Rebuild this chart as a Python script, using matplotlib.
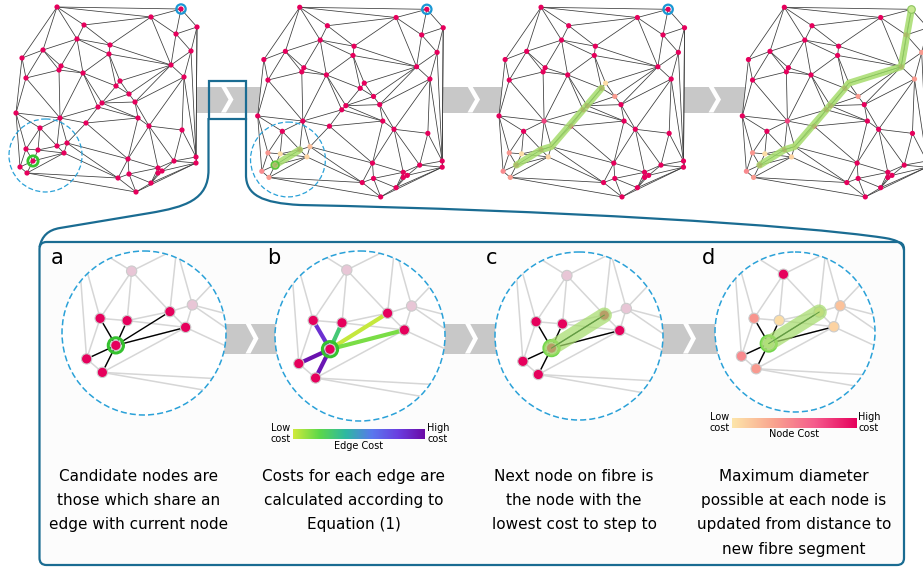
import numpy as np
import matplotlib
matplotlib.use("Agg")
import matplotlib.pyplot as plt
import matplotlib.tri as mtri
from matplotlib.collections import LineCollection, PolyCollection
from matplotlib.patches import Circle, Polygon, Rectangle, FancyBboxPatch, PathPatch
from matplotlib.path import Path
from matplotlib.colors import LinearSegmentedColormap

# network nodes, pixel positions in the first panel
node_x = [57, 181, 151, 197, 84, 176, 77, 110, 43, 191,
          109, 22, 171, 61, 59, 83, 26, 184, 120, 116,
          129, 135, 102, 98, 16, 60, 138, 86, 149, 40,
          182, 67, 57, 26, 38, 64, 33, 196, 174, 196,
          128, 20, 158, 162, 158, 27, 129, 118, 151, 136]
node_y = [7, 9, 17, 27, 25, 34, 39, 45, 50, 51,
          54, 58, 65, 66, 70, 73, 78, 77, 81, 86,
          94, 102, 103, 107, 113, 118, 118, 123, 126, 128,
          130, 143, 146, 149, 150, 153, 161, 157, 161, 163,
          159, 167, 168, 171, 173, 173, 174, 178, 183, 192]

START = 36
TARGET = 1
neighbours = [33, 34, 32, 35, 41, 45]
faded = [29, 31]

# fibre growth in the top row panels
fibre_2 = [36, 32]
fibre_3 = [36, 32, 31, 23, 19]
fibre_4 = [36, 32, 31, 23, 19, 18, 12, 1]

# node cost after each step (0 = low, 1 = high; others stay 1)
cost_2 = {33: 0.40, 34: 0.05, 31: 0.20, 35: 0.10, 41: 0.45, 45: 0.38}
cost_3 = {**cost_2, 18: 0.05, 20: 0.38, 25: 0.75}
cost_4 = {**cost_3, 17: 0.38, 9: 0.38}

# edge cost of the candidate edges (panel b), node cost in panel d
edge_cost = [0.85, 0.30, 0.02, 0.15, 0.97, 0.95]
node_cost_d = {33: 0.40, 34: 0.05, 35: 0.10, 41: 0.45, 45: 0.38, 31: 0.18, 29: 1.0, 32: 0.0}

captions = [
    ["Candidate nodes are", "those which share an", "edge with current node"],
    ["Costs for each edge are", "calculated according to", "Equation (1)"],
    ["Next node on fibre is", "the node with the", "lowest cost to step to"],
    ["Maximum diameter", "possible at each node is", "updated from distance to", "new fibre segment"],
]
panel_labels = ["a", "b", "c", "d"]

CRIMSON = "#e6005c"
BLUE = "#1a6c92"
DASH = "#2aa1d8"
GREEN_RING = "#35c22f"
FIBRE = "#a6dc6c"
BAND = "#c8c8c8"

edge_cmap = LinearSegmentedColormap.from_list(
    "edge", ["#d0ea3c", "#5cd84a", "#2eb8a2", "#5a78ee", "#6b3ee0", "#6a0aa6"])
node_cmap = LinearSegmentedColormap.from_list(
    "node", ["#fde6aa", "#f9a48f", "#f55b8c", "#e6005c"])

nx = np.array(node_x, float)
ny = np.array(node_y, float)
tri = mtri.Triangulation(nx, ny)
edges = tri.edges

fig = plt.figure(figsize=(9.23, 5.69), dpi=100)
ax = fig.add_axes([0, 0, 1, 1])
ax.set_xlim(0, 923)
ax.set_ylim(569, 0)
ax.axis("off")

# ---------------- top row ----------------
ax.add_patch(Rectangle((196, 86.5), 740, 26, facecolor=BAND, edgecolor="none", zorder=0))
for x0 in [221, 467.5, 708.5]:
    ax.add_patch(Polygon([(x0, 86.5), (x0 + 7.5, 99.5), (x0, 112.5), (x0 + 5, 112.5),
                          (x0 + 12.5, 99.5), (x0 + 5, 86.5)],
                         closed=True, facecolor="white", edgecolor="none", zorder=0.5))

panels = [(1.0, 0.0, 0.0), (1.025, 241.3, 0.1), (1.025, 482.6, 0.1), (1.025, 725.9, 0.1)]
costs = [{}, cost_2, cost_3, cost_4]
fibres = [None, fibre_2, fibre_3, fibre_4]

for k, (s, ox, oy) in enumerate(panels):
    px = nx * s + ox
    py = ny * s + oy
    polys = [np.column_stack([px[t], py[t]]) for t in tri.triangles]
    ax.add_collection(PolyCollection(polys, facecolor="white", edgecolor="none", zorder=1))
    segs = [[(px[a], py[a]), (px[b], py[b])] for a, b in edges]
    ax.add_collection(LineCollection(segs, colors="#3a3a3a", linewidths=0.55, zorder=2))
    cols = [node_cmap(costs[k].get(i, 1.0)) for i in range(len(nx))]
    ax.scatter(px, py, s=14, c=cols, edgecolors="none", zorder=3)
    if k < 3:
        ax.scatter([px[TARGET]], [py[TARGET]], s=45, facecolors="none",
                   edgecolors="#1b97d4", linewidths=1.6, zorder=4)
    if k < 2:
        ax.add_patch(Circle((45.5 * s + ox, 155.5 * s + oy), 36.5 * s, fill=False,
                            edgecolor=DASH, lw=0.9, ls=(0, (4, 2)), zorder=4))
    if k == 0:
        ax.scatter([px[START]], [py[START]], s=55, facecolors="none",
                   edgecolors=GREEN_RING, linewidths=2, zorder=4)
    if fibres[k]:
        fx = px[fibres[k]]
        fy = py[fibres[k]]
        ax.plot(fx, fy, color=FIBRE, lw=5, alpha=0.85, solid_capstyle="round",
                solid_joinstyle="round", zorder=5)
        ax.plot(fx, fy, color="#86c45c", lw=0.5, zorder=5)
        if k == 1:
            ax.scatter([px[START]], [py[START]], s=30, facecolors="none",
                       edgecolors="#5cc43c", linewidths=1.2, zorder=5)
        if k == 3:
            ax.scatter([px[TARGET]], [py[TARGET]], s=30, facecolors="#c8e890",
                       edgecolors="#8cc460", linewidths=0.8, zorder=5)

# highlight box and connectors
ax.add_patch(Rectangle((208.5, 81), 37.5, 37.5, fill=False, edgecolor=BLUE, lw=1.6, zorder=6))
left_path = Path([(208.5, 118), (208.5, 170), (208.5, 200), (185, 207), (150, 213),
                  (60, 228), (48, 230), (42, 236), (39.5, 247)],
                 [Path.MOVETO, Path.LINETO, Path.CURVE4, Path.CURVE4, Path.CURVE4,
                  Path.LINETO, Path.CURVE4, Path.CURVE4, Path.CURVE4])
right_path = Path([(246, 118), (246, 175), (246, 195), (262, 203), (300, 205),
                   (550, 210), (800, 225), (885, 238), (897, 240), (903, 243), (904, 250)],
                  [Path.MOVETO, Path.LINETO, Path.CURVE4, Path.CURVE4, Path.CURVE4,
                   Path.CURVE4, Path.CURVE4, Path.CURVE4, Path.CURVE4, Path.CURVE4, Path.CURVE4])
for p in [left_path, right_path]:
    ax.add_patch(PathPatch(p, fill=False, edgecolor=BLUE, lw=1.6, zorder=6))

# ---------------- lower box ----------------
ax.add_patch(FancyBboxPatch((39.5, 242), 864.5, 323, boxstyle="round,pad=0,rounding_size=7",
                            facecolor="#fcfcfc", edgecolor=BLUE, lw=1.6, zorder=0.2))
ax.add_patch(Rectangle((215, 323.5), 520, 30, facecolor=BAND, edgecolor="none", zorder=1))
for x0 in [245.5, 465, 683]:
    ax.add_patch(Polygon([(x0, 323.5), (x0 + 8, 338.5), (x0, 353.5), (x0 + 5, 353.5),
                          (x0 + 13, 338.5), (x0 + 5, 323.5)],
                         closed=True, facecolor="white", edgecolor="none", zorder=1.5))

zoom_centres = [(144, 333), (360, 336), (579, 336), (795, 332)]
zoom_radius = [82, 85, 84, 80]
zoom_scale = [2.25, 2.4, 2.2, 2.1]
focus = (45.5, 155.5)

for k in range(4):
    cx, cy = zoom_centres[k]
    r = zoom_radius[k]
    s = zoom_scale[k]
    zx = cx + (nx - focus[0]) * s
    zy = cy + (ny - focus[1]) * s
    bg = Circle((cx, cy), r, facecolor="white", edgecolor="none", zorder=2)
    ax.add_patch(bg)
    segs = [[(zx[a], zy[a]), (zx[b], zy[b])] for a, b in edges]
    lc = LineCollection(segs, colors="#d6d6d6", linewidths=1.1, zorder=3)
    ax.add_collection(lc)
    lc.set_clip_path(bg)
    ax.add_patch(Circle((cx, cy), r, fill=False, edgecolor=DASH, lw=1.1,
                        ls=(0, (4, 2)), zorder=9))

    for j, n in enumerate(neighbours):
        if k == 1:
            col, lw = edge_cmap(edge_cost[j]), 3.0
        else:
            col, lw = "black", 1.0
        ax.plot([zx[START], zx[n]], [zy[START], zy[n]], color=col, lw=lw,
                solid_capstyle="butt", zorder=4)

    shown = neighbours + faded + [START]
    if k == 3:
        cols = [node_cmap(node_cost_d.get(i, 1.0)) if i != START else "#c8ec9a" for i in shown]
    else:
        cols = [CRIMSON if i not in faded else "#e8c6d6" for i in shown]
    ax.scatter(zx[shown], zy[shown], s=55, c=cols, edgecolors="#cccccc",
               linewidths=0.8, zorder=6)
    ax.scatter([zx[START]], [zy[START]], s=120, facecolors="none",
               edgecolors=GREEN_RING if k < 2 else "#72d64c", linewidths=2.2, zorder=6.2)

    if k >= 2:
        fx = zx[[START, 32]]
        fy = zy[[START, 32]]
        ax.plot(fx, fy, color=FIBRE, lw=11, alpha=0.72, solid_capstyle="round", zorder=7)
        ax.plot(fx, fy, color="#5f9e44", lw=0.7, zorder=7.1)

    ax.text(cx - 93, 258, panel_labels[k], fontsize=15, ha="left", va="center", zorder=10)

    for i, line in enumerate(captions[k]):
        ax.text([139, 354, 574, 794][k], 476 + i * 24.5, line, fontsize=11,
                ha="center", va="center", zorder=10)

# colour bars
grad = np.linspace(0, 1, 256).reshape(1, -1)
ax.imshow(grad, cmap=edge_cmap, extent=[293, 425, 438.5, 428.5], aspect="auto", zorder=10)
ax.imshow(grad, cmap=node_cmap, extent=[732, 857, 427.5, 417.5], aspect="auto", zorder=10)
for x, y, t in [(281, 433.5, "Low\ncost"), (438, 433.5, "High\ncost"),
                (719.5, 422.5, "Low\ncost"), (869, 422.5, "High\ncost")]:
    ax.text(x, y, t, fontsize=7, ha="center", va="center", linespacing=1.15, zorder=10)
ax.text(359, 446, "Edge Cost", fontsize=7, ha="center", va="center", zorder=10)
ax.text(794, 434, "Node Cost", fontsize=7, ha="center", va="center", zorder=10)

ax.set_xlim(0, 923)
ax.set_ylim(569, 0)
fig.savefig("out.png", dpi=100)
